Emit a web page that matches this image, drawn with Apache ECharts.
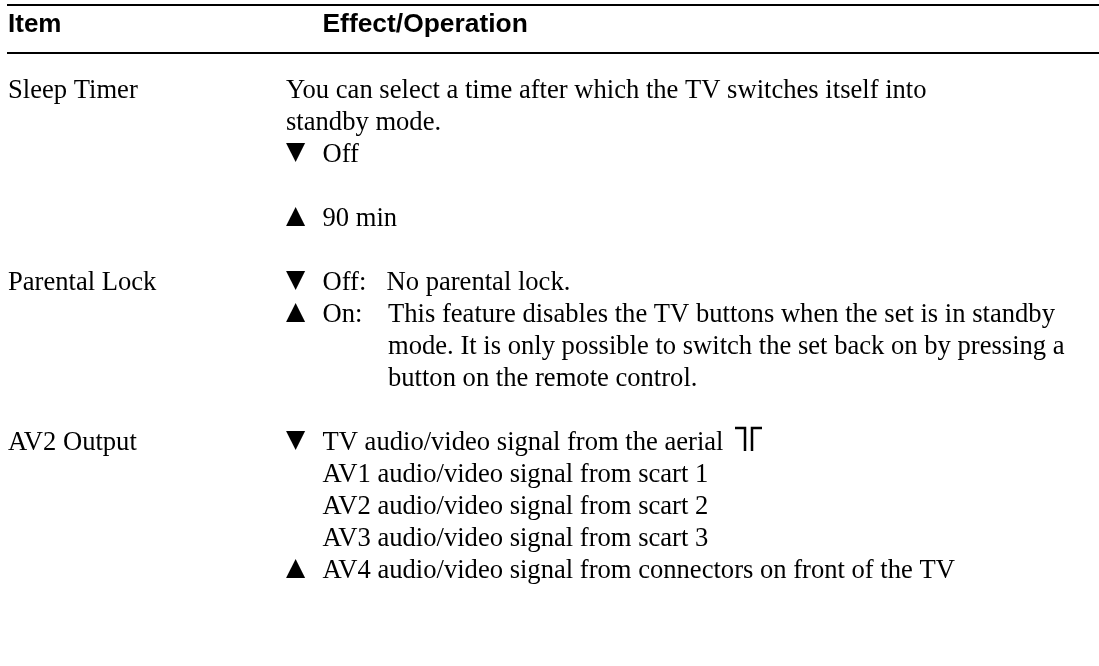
<!DOCTYPE html>
<html>
<head>
<meta charset="utf-8">
<style>html,body{margin:0;padding:0;background:#fff}#main{width:1099px;height:666px}</style>
<script src="https://cdn.jsdelivr.net/npm/echarts@6/dist/echarts.min.js"></script>
</head>
<body>
<div id="main"></div>
<script>
// table content: [line number, text]
var headerItem = 'Item';
var headerEffect = 'Effect/Operation';
var items = [[0, 'Sleep Timer'], [6, 'Parental Lock'], [11, 'AV2 Output']];
var paragraphs = [[0, 'You can select a time after which the TV switches itself into'], [1, 'standby mode.']];
var arrows = [[2, '▼'], [4, '▲'], [6, '▼'], [7, '▲'], [11, '▼'], [15, '▲']];
var options = [
  [2, 'Off'], [4, '90 min'], [6, 'Off:'], [7, 'On:'],
  [11, 'TV audio/video signal from the aerial'],
  [12, 'AV1 audio/video signal from scart 1'],
  [13, 'AV2 audio/video signal from scart 2'],
  [14, 'AV3 audio/video signal from scart 3'],
  [15, 'AV4 audio/video signal from connectors on front of the TV']
];
var optionNotes = [
  [7, 'This feature disables the TV buttons when the set is in standby'],
  [8, 'mode. It is only possible to switch the set back on by pressing a'],
  [9, 'button on the remote control.']
];
var lockNote = [[6, 'No parental lock.']];

// layout
var lineTop = 90.8, lineHeight = 32.03;
var headerLine = -2.06, ruleLines = [-2.68, -1.18];
var colItem = 8, colEffect = 286, colOption = 322.5, colNote = 388, colLock = 386.5;
var ruleStart = 7, ruleEnd = 1099;
var bodySize = 26.6;
var arrowShift = -0.08;
var serif = '"Liberation Serif"', sans = '"Liberation Sans"';

function textSeries(rows, x, font, size, weight, shift) {
  return {
    type: 'scatter',
    symbolSize: 0,
    silent: true,
    itemStyle: { opacity: 1 },
    data: rows.map(function (r) { return { value: [x, r[0] + (shift || 0)], name: r[1] }; }),
    label: {
      show: true,
      position: 'right',
      distance: 0,
      formatter: '{b}',
      color: '#000',
      opacity: 1,
      fontFamily: font,
      fontSize: size,
      fontWeight: weight || 'normal'
    }
  };
}

function ruleSeries(line) {
  return {
    type: 'line',
    symbol: 'none',
    silent: true,
    data: [[ruleStart, line], [ruleEnd, line]],
    lineStyle: { color: '#000', width: 2 }
  };
}

var chart = echarts.init(document.getElementById('main'), null, { renderer: 'canvas' });
var series = ruleLines.map(ruleSeries).concat([
  textSeries([[headerLine, headerItem]], colItem, sans, 26, 'bold'),
  textSeries([[headerLine, headerEffect]], colOption, sans, 26.4, 'bold'),
  textSeries(items, colItem, serif, bodySize),
  textSeries(paragraphs, colEffect, serif, bodySize),
  textSeries(arrows, colEffect, '"DejaVu Sans"', 25, 'normal', arrowShift),
  textSeries(options, colOption, serif, bodySize),
  textSeries(lockNote, colLock, serif, bodySize),
  textSeries(optionNotes, colNote, serif, bodySize)
]);

chart.setOption({
  animation: false,
  backgroundColor: '#fff',
  grid: { left: 0, right: 0, top: 0, bottom: 0 },
  xAxis: { type: 'value', min: 0, max: 1099, show: false },
  yAxis: {
    type: 'value',
    inverse: true,
    min: -lineTop / lineHeight,
    max: (666 - lineTop) / lineHeight,
    show: false
  },
  // aerial symbol after the TV line
  graphic: [
    { type: 'polyline', shape: { points: [[735, 428], [745, 428], [745, 451]] }, style: { stroke: '#000', lineWidth: 2.5, fill: null } },
    { type: 'polyline', shape: { points: [[752, 451], [752, 428], [762, 428]] }, style: { stroke: '#000', lineWidth: 2.5, fill: null } }
  ],
  series: series
});
</script>
</body>
</html>
